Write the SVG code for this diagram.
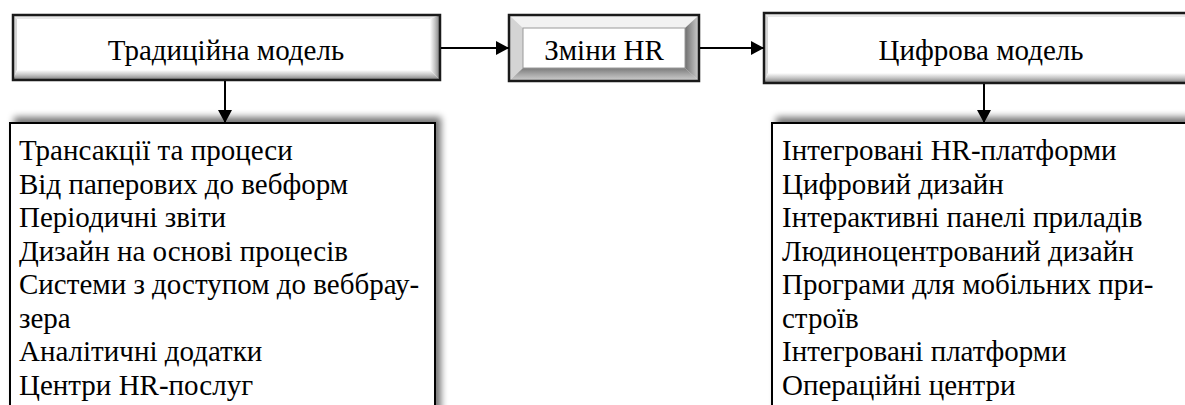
<svg xmlns="http://www.w3.org/2000/svg" width="1185" height="405" viewBox="0 0 1185 405">
<defs>
<style>
text{font-family:'Liberation Serif',serif;font-size:29px;fill:#000}
.c{text-anchor:middle}
.edge{stroke:#000;stroke-width:2;fill:none}
.frame{fill:none;stroke:#1a1a1a;stroke-width:2.5}
.lst{fill:#fff;stroke:#000;stroke-width:2}
</style>
<linearGradient id="gb" x1="0" y1="0" x2="0" y2="1"><stop offset="0" stop-color="#ffffff"/><stop offset="0.5" stop-color="#c4c4c4"/><stop offset="1" stop-color="#7a7a7a"/></linearGradient>
<linearGradient id="gr" x1="0" y1="0" x2="1" y2="0"><stop offset="0" stop-color="#ffffff"/><stop offset="0.5" stop-color="#c4c4c4"/><stop offset="1" stop-color="#7a7a7a"/></linearGradient>
<linearGradient id="fb" x1="0" y1="0" x2="0" y2="1"><stop offset="0" stop-color="#7a7a7a"/><stop offset="0.5" stop-color="#a8a8a8"/><stop offset="1" stop-color="#d0d0d0"/></linearGradient>
<linearGradient id="fr" x1="0" y1="0" x2="1" y2="0"><stop offset="0" stop-color="#6e6e6e"/><stop offset="0.5" stop-color="#a0a0a0"/><stop offset="1" stop-color="#cfcfcf"/></linearGradient>
<filter id="sh" x="-10%" y="-20%" width="120%" height="140%">
<feGaussianBlur in="SourceAlpha" stdDeviation="3.5"/>
<feOffset dx="5" dy="-5" result="o"/>
<feComponentTransfer><feFuncA type="linear" slope="0.55"/></feComponentTransfer>
<feMerge><feMergeNode/><feMergeNode in="SourceGraphic"/></feMerge>
</filter>
<marker id="ah" markerWidth="14" markerHeight="14" refX="13" refY="7" orient="auto" markerUnits="userSpaceOnUse"><path d="M0,0 L13,7 L0,14 z" fill="#000"/></marker>
</defs>
<rect width="1185" height="405" fill="#fff"/>

<g id="traditional">
<rect x="13" y="15" width="427" height="65" fill="#fff"/>
<polygon points="13,15 440,15 430,19 17,19" fill="#e8e8e8"/>
<polygon points="13,15 17,19 17,70 13,80" fill="#d6d6d6"/>
<polygon points="13,80 17,70 430,70 440,80" fill="url(#gb)"/>
<polygon points="440,15 440,80 430,70 430,19" fill="url(#gr)"/>
<rect x="13" y="15" width="427" height="65" class="frame"/>
<text x="226" y="60" class="c" font-family="Liberation Serif">Традиційна модель</text>
</g>

<g id="changes">
<rect x="509" y="15" width="190" height="66" fill="#fff"/>
<polygon points="509,15 699,15 685,28 523,28" fill="#f2f2f2"/>
<polygon points="509,15 523,28 523,68 509,81" fill="#d4d4d4"/>
<polygon points="509,81 523,68 685,68 699,81" fill="url(#fb)"/>
<polygon points="699,15 699,81 685,68 685,28" fill="url(#fr)"/>
<rect x="523" y="28" width="162" height="40" fill="#fff" stroke="#9a9a9a" stroke-width="1"/>
<rect x="509" y="15" width="190" height="66" class="frame"/>
<text x="604" y="60" class="c" font-family="Liberation Serif">Зміни HR</text>
</g>

<g id="digital">
<rect x="764" y="13" width="440" height="70" fill="#fff"/>
<polygon points="764,13 1204,13 1194,17 768,17" fill="#e8e8e8"/>
<polygon points="764,13 768,17 768,73 764,83" fill="#d6d6d6"/>
<polygon points="764,83 768,73 1194,73 1204,83" fill="url(#gb)"/>
<rect x="764" y="13" width="440" height="70" class="frame"/>
<text x="981" y="60" class="c" font-family="Liberation Serif">Цифрова модель</text>
</g>

<g id="traditional-list">
<rect x="10" y="123" width="425" height="300" class="lst" filter="url(#sh)"/>
<text font-family="Liberation Serif">
<tspan x="19" y="160">Трансакції та процеси</tspan>
<tspan x="19" y="193.5">Від паперових до вебформ</tspan>
<tspan x="19" y="227">Періодичні звіти</tspan>
<tspan x="19" y="260.5">Дизайн на основі процесів</tspan>
<tspan x="19" y="294">Системи з доступом до веббрау-</tspan>
<tspan x="19" y="327.5">зера</tspan>
<tspan x="19" y="361">Аналітичні додатки</tspan>
<tspan x="19" y="394.5">Центри HR-послуг</tspan>
</text>
</g>

<g id="digital-list">
<rect x="772" y="123" width="440" height="300" class="lst" filter="url(#sh)"/>
<text font-family="Liberation Serif">
<tspan x="782" y="160">Інтегровані HR-платформи</tspan>
<tspan x="782" y="193.5">Цифровий дизайн</tspan>
<tspan x="782" y="227">Інтерактивні панелі приладів</tspan>
<tspan x="782" y="260.5">Людиноцентрований дизайн</tspan>
<tspan x="782" y="294">Програми для мобільних при-</tspan>
<tspan x="782" y="327.5">строїв</tspan>
<tspan x="782" y="361">Інтегровані платформи</tspan>
<tspan x="782" y="394.5">Операційні центри</tspan>
</text>
</g>

<g id="connectors">
<line x1="441" y1="48" x2="509" y2="48" class="edge" marker-end="url(#ah)"/>
<line x1="700" y1="48" x2="764" y2="48" class="edge" marker-end="url(#ah)"/>
<line x1="225" y1="81" x2="225" y2="123" class="edge" marker-end="url(#ah)"/>
<line x1="984" y1="84" x2="984" y2="123" class="edge" marker-end="url(#ah)"/>
</g>
</svg>
